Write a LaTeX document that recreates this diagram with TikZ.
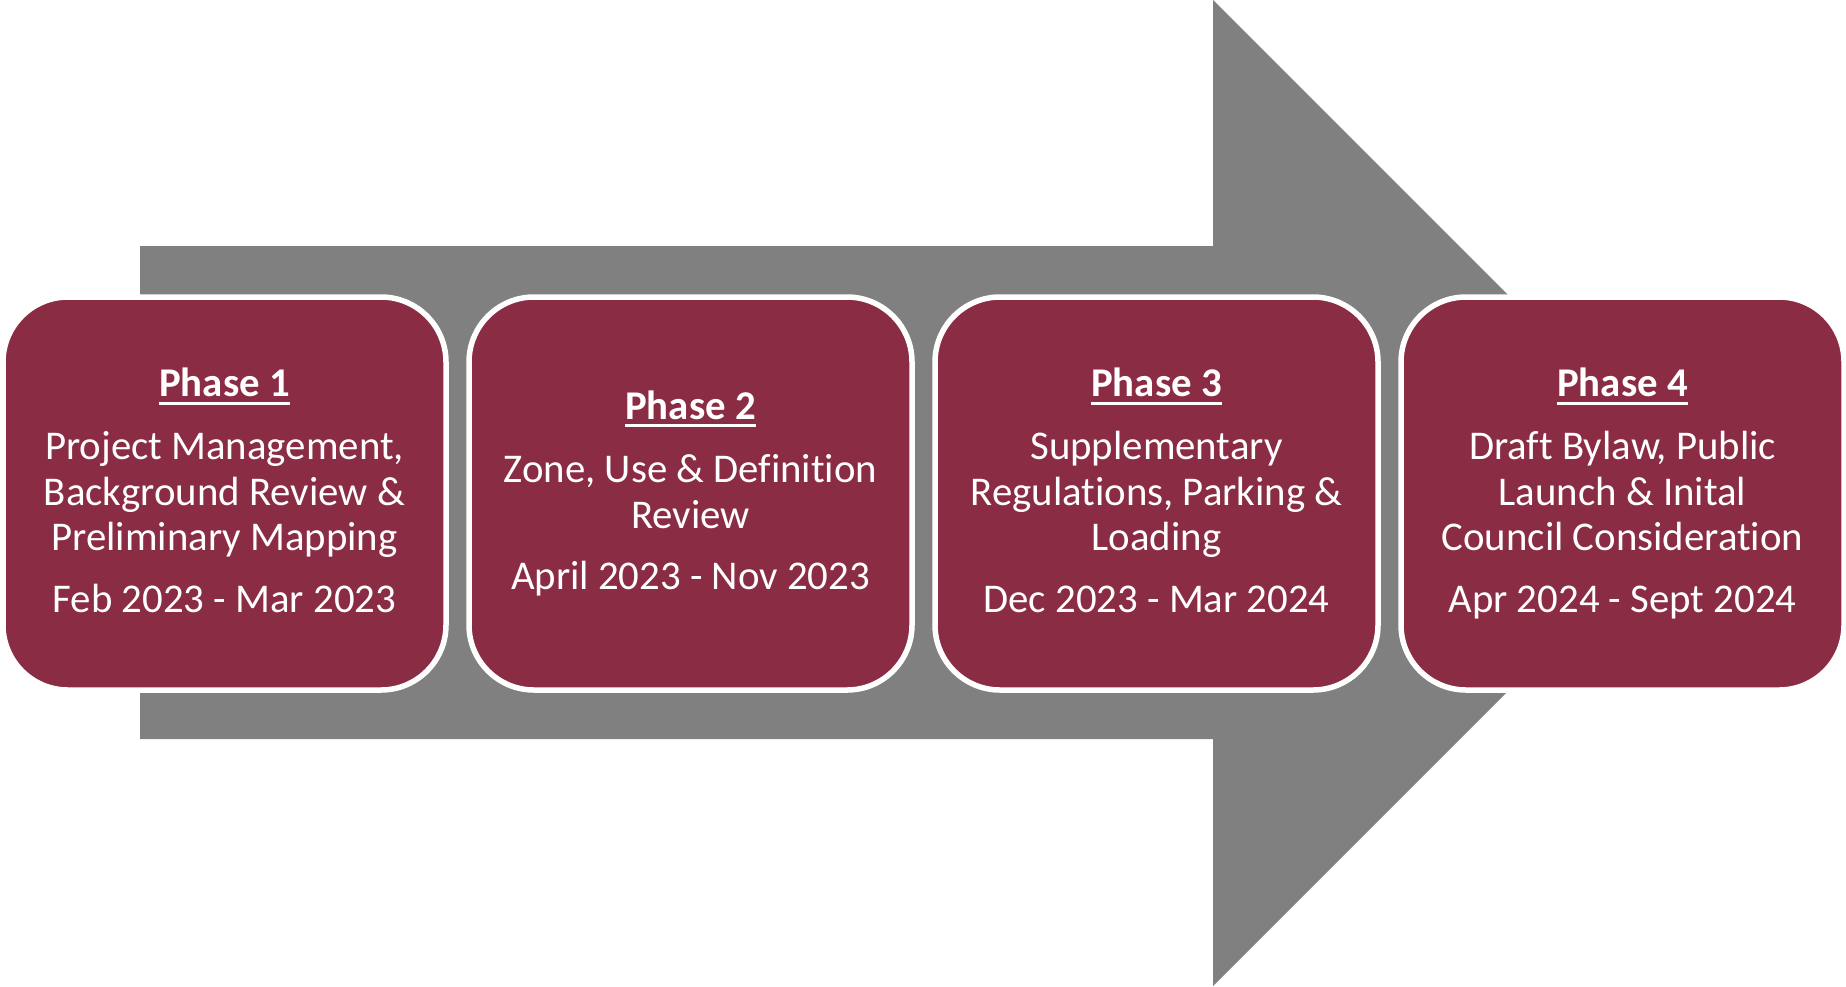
\documentclass[tikz,border=0pt]{standalone}
\usepackage{fontspec}
\setmainfont[Ligatures=NoCommon]{Carlito}
\definecolor{maroon}{RGB}{138,44,67}
\definecolor{arrowgray}{RGB}{128,128,128}
\begin{document}
\begin{tikzpicture}[x=1pt,y=-1pt,
  phasebox/.style={draw=white, line width=5.5pt, fill=maroon, rounded corners=65pt,
    minimum width=443pt, minimum height=393pt, inner sep=0pt},
  ptitle/.style={anchor=base, inner sep=0pt, text=white, font=\fontsize{40.8}{45.7}\selectfont\bfseries},
  ptext/.style={anchor=base, inner sep=0pt, text=white, font=\fontsize{40.8}{45.7}\selectfont},
  uline/.style={draw=white, line width=3pt}
]
\fill[white] (0,0) rectangle (1846,986);
\useasboundingbox (0,0) rectangle (1846,986);
% big arrow
\fill[arrowgray] (140,246) -- (1213,246) -- (1213,0) -- (1706,493) -- (1213,986) -- (1213,739) -- (140,739) -- cycle;
% boxes
\node[phasebox] (b1) at (224.5,493.5) {};
\node[phasebox] (b2) at (690.5,493.5) {};
\node[phasebox] (b3) at (1156.5,493.5) {};
\node[phasebox] (b4) at (1622.5,493.5) {};
% phase 1
\node[ptitle] (t1) at (224.5,396.5) {Phase 1};
\node[ptext] (t1a) at (224.5,459.5) {Project Management,};
\node[ptext] (t1b) at (224.5,505.2) {Background Review \&};
\node[ptext] (t1c) at (224.5,550.9) {Preliminary Mapping};
\node[ptext] (t1d) at (224.5,612.5) {Feb 2023 - Mar 2023};
% phase 2
\node[ptitle] (t2) at (690.5,419) {Phase 2};
\node[ptext] (t2a) at (690.5,482.3) {Zone, Use \& Definition};
\node[ptext] (t2b) at (690.5,528) {Review};
\node[ptext] (t2d) at (690.5,589.7) {April 2023 - Nov 2023};
% phase 3
\node[ptitle] (t3) at (1156.5,396.5) {Phase 3};
\node[ptext] (t3a) at (1156.5,459.5) {Supplementary};
\node[ptext] (t3b) at (1156.5,505.2) {Regulations, Parking \&};
\node[ptext] (t3c) at (1156.5,550.9) {Loading};
\node[ptext] (t3d) at (1156.5,612.5) {Dec 2023 - Mar 2024};
% phase 4
\node[ptitle] (t4) at (1622.5,396.5) {Phase 4};
\node[ptext] (t4a) at (1622.5,459.5) {Draft Bylaw, Public};
\node[ptext] (t4b) at (1622.5,505.2) {Launch \& Inital};
\node[ptext] (t4c) at (1622.5,550.9) {Council Consideration};
\node[ptext] (t4d) at (1622.5,612.5) {Apr 2024 - Sept 2024};
% underlines
\foreach \t in {t1,t2,t3,t4}{
  \draw[uline] ([yshift=-6.5pt]\t.base west) -- ([yshift=-6.5pt]\t.base east);
}
\end{tikzpicture}
\end{document}
